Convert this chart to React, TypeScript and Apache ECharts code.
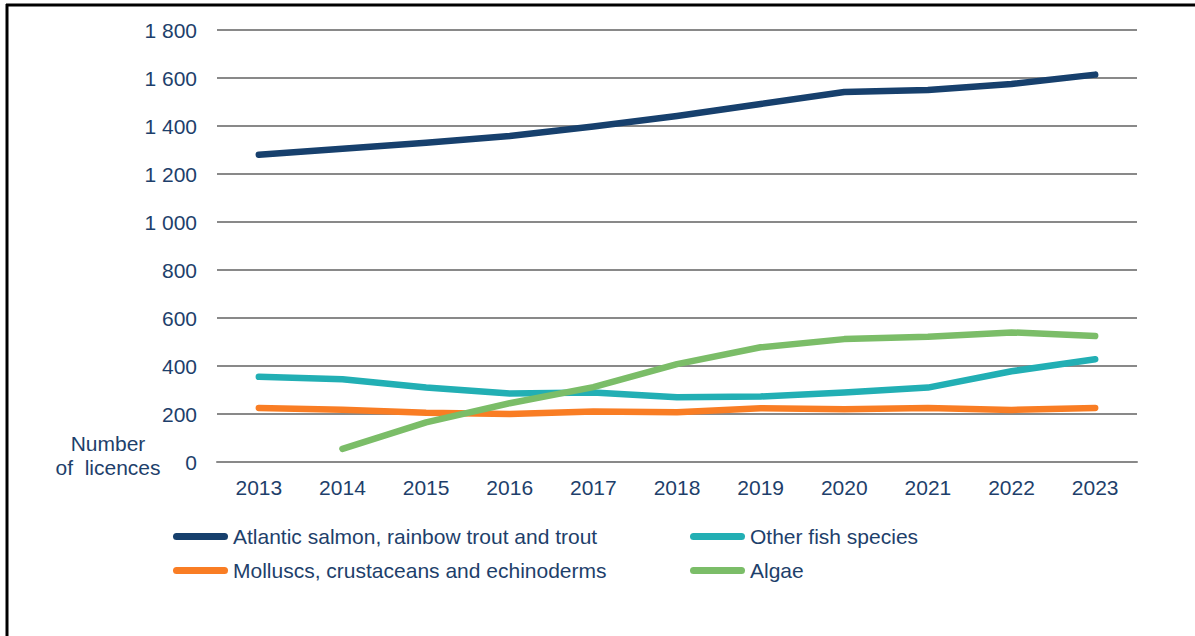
import React, { useEffect, useRef } from "react";
import * as echarts from "echarts";

const years = ["2013", "2014", "2015", "2016", "2017", "2018", "2019", "2020", "2021", "2022", "2023"];
const seriesNames = [
  "Atlantic salmon, rainbow trout and trout",
  "Other fish species",
  "Molluscs, crustaceans and echinoderms",
  "Algae",
];
const salmon = [1280, 1305, 1330, 1358, 1398, 1442, 1492, 1542, 1550, 1575, 1614];
const otherFish = [355, 345, 310, 285, 290, 270, 273, 290, 310, 378, 428];
const molluscs = [225, 218, 205, 200, 210, 207, 224, 220, 225, 217, 225];
const algae = [null, 55, 165, 245, 312, 408, 478, 512, 522, 540, 525];
const colors = ["#17406D", "#22AFB4", "#F97D24", "#7BBD68"];
const yTicks = { min: 0, max: 1800, interval: 200 };

const TEXT = "#1E3F6B";
const FONT = "'Liberation Sans', Arial, sans-serif";

export default function App() {
  const ref = useRef<HTMLDivElement>(null);
  useEffect(() => {
    document.body.style.margin = "0";
    const chart = echarts.init(ref.current!, null, { renderer: "svg" });
    const values = [salmon, otherFish, molluscs, algae];
    const pill = "path://M3.5,0H51.5A3.5,3.5,0,0,1,51.5,7H3.5A3.5,3.5,0,0,1,3.5,0Z";
    const legendBase = {
      orient: "vertical",
      top: 526,
      padding: 0,
      itemWidth: 55,
      itemHeight: 7,
      itemGap: 13,
      icon: pill,
      symbolKeepAspect: false,
      textStyle: { color: TEXT, fontSize: 21, fontFamily: FONT, lineHeight: 21 },
      selectedMode: false,
    };
    chart.setOption({
      animation: false,
      textStyle: { fontFamily: FONT },
      grid: { left: 217, right: 58, top: 30, bottom: 174, containLabel: false },
      xAxis: {
        type: "category",
        data: years,
        boundaryGap: true,
        axisLine: { show: true, lineStyle: { color: "#898989", width: 2 } },
        axisTick: { show: false },
        axisLabel: { color: TEXT, fontSize: 21, fontFamily: FONT, margin: 15 },
        splitLine: { show: false },
      },
      yAxis: {
        type: "value",
        min: yTicks.min,
        max: yTicks.max,
        interval: yTicks.interval,
        axisLine: { show: false },
        axisTick: { show: false },
        axisLabel: {
          color: TEXT,
          fontSize: 21,
          fontFamily: FONT,
          margin: 20,
          formatter: (v: number) => (v >= 1000 ? Math.floor(v / 1000) + " " + String(v % 1000).padStart(3, "0") : String(v)),
        },
        splitLine: { show: true, lineStyle: { color: "#898989", width: 2 } },
      },
      legend: [
        { ...legendBase, left: 173, data: [seriesNames[0], seriesNames[2]] },
        { ...legendBase, left: 690, data: [seriesNames[1], seriesNames[3]] },
      ],
      graphic: [
        { type: "line", shape: { x1: 7, y1: 4, x2: 7, y2: 636 }, style: { stroke: "#000", lineWidth: 3 } },
        { type: "line", shape: { x1: 6, y1: 5, x2: 1195, y2: 5 }, style: { stroke: "#000", lineWidth: 3 } },
        {
          type: "text",
          x: 108,
          y: 455.5,
          style: {
            text: "Number\nof  licences",
            fill: TEXT,
            font: `21px ${FONT}`,
            fontSize: 21,
            fontFamily: FONT,
            lineHeight: 24,
            align: "center",
            verticalAlign: "middle",
          },
        },
      ],
      series: seriesNames.map((name, i) => ({
        name,
        type: "line",
        data: values[i],
        color: colors[i],
        showSymbol: false,
        symbol: "none",
        smooth: false,
        lineStyle: { color: colors[i], width: 6.5, cap: "round", join: "round" },
        z: 2 + i,
      })),
    });
    return () => chart.dispose();
  }, []);
  return <div ref={ref} style={{ position: "absolute", left: 0, top: 0, width: 1195, height: 636 }} />;
}
